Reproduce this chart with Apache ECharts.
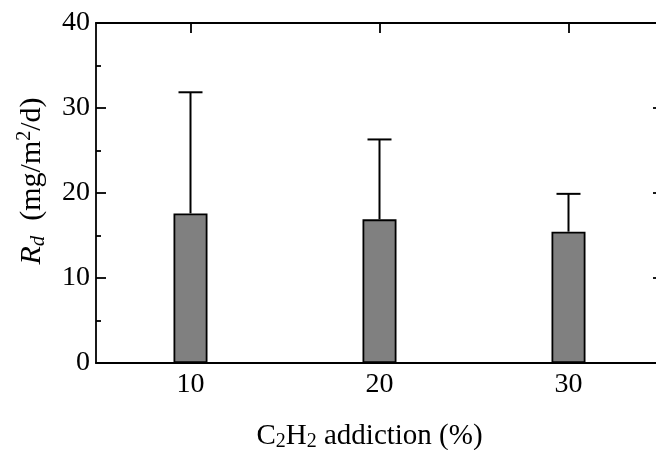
<!DOCTYPE html>
<html>
<head>
<meta charset="utf-8">
<script src="https://cdn.jsdelivr.net/npm/echarts@6/dist/echarts.min.js"></script>
<style>html,body{margin:0;padding:0;background:#fff;overflow:hidden}#c{width:680px;height:450px}</style>
</head>
<body>
<div id="c"></div>
<script>
var categories = ['10', '20', '30'];
var means = [17.6, 16.9, 15.45];
var upperEnds = [31.85, 26.3, 19.9];
var yTicks = [0, 10, 20, 30, 40];

var FONT = 'Liberation Serif';
var chart = echarts.init(document.getElementById('c'), null, {renderer: 'canvas'});
var errData = categories.map(function (c, i) { return [i, means[i], upperEnds[i]]; });

chart.setOption({
  animation: false,
  backgroundColor: '#fff',
  grid: {left: 96, top: 23, width: 567, height: 340, containLabel: false, outerBoundsMode: 'none'},
  xAxis: [{
    type: 'category', data: categories, position: 'bottom',
    axisLine: {lineStyle: {color: '#000', width: 1.8}},
    axisTick: {inside: true, length: 10, alignWithLabel: true, interval: 0, lineStyle: {color: '#000', width: 1.8}},
    axisLabel: {color: '#000', fontFamily: FONT, fontSize: 28, margin: 8, interval: 0},
    name: '{n|C}{s|2}{n|H}{s|2}{n| addiction (%)}',
    nameLocation: 'middle', nameGap: 57,
    nameTextStyle: {
      padding: [0, 20, 0, 0],
      rich: {
        n: {fontFamily: FONT, fontSize: 29, color: '#000', lineHeight: 32, verticalAlign: 'middle'},
        s: {fontFamily: FONT, fontSize: 20, color: '#000', lineHeight: 32, verticalAlign: 'bottom'}
      }
    }
  }, {
    type: 'category', data: categories, position: 'top',
    axisLine: {show: true, onZero: false, lineStyle: {color: '#000', width: 1.8}},
    axisTick: {show: true, inside: true, length: 10, alignWithLabel: true, interval: 0, lineStyle: {color: '#000', width: 1.8}},
    axisLabel: {show: true, interval: 0, color: 'rgba(0,0,0,0)', fontSize: 10}
  }],
  yAxis: [{
    type: 'value', min: 0, max: 40, interval: 10, position: 'left',
    axisLine: {show: true, lineStyle: {color: '#000', width: 1.8}},
    axisTick: {show: true, inside: true, length: 10, lineStyle: {color: '#000', width: 1.8}},
    minorTick: {show: true, splitNumber: 2, length: 5, lineStyle: {color: '#000', width: 1.8}},
    splitLine: {show: false},
    axisLabel: {color: '#000', fontFamily: FONT, fontSize: 28, margin: 6,
      formatter: function (v) { return yTicks.indexOf(v) >= 0 ? String(v) : ''; }},
    name: '{i|R}{s|d}{n|  (mg/m}{p|2}{n|/d)}',
    nameLocation: 'middle', nameGap: 47, nameRotate: 90,
    nameTextStyle: {
      padding: [0, 0, 0, 24],
      rich: {
        i: {fontFamily: FONT, fontSize: 30, fontStyle: 'italic', color: '#000', lineHeight: 34, verticalAlign: 'middle'},
        s: {fontFamily: FONT, fontSize: 21, fontStyle: 'italic', color: '#000', lineHeight: 34, verticalAlign: 'bottom'},
        n: {fontFamily: FONT, fontSize: 30, color: '#000', lineHeight: 34, verticalAlign: 'middle'},
        p: {fontFamily: FONT, fontSize: 20, color: '#000', lineHeight: 34, verticalAlign: 'top'}
      }
    }
  }, {
    type: 'value', min: 0, max: 40, interval: 10, position: 'right',
    axisLine: {show: true, lineStyle: {color: '#000', width: 1.8}},
    axisTick: {show: true, inside: true, length: 10, lineStyle: {color: '#000', width: 1.8}},
    minorTick: {show: true, splitNumber: 2, length: 5, lineStyle: {color: '#000', width: 1.8}},
    splitLine: {show: false},
    axisLabel: {show: false}
  }],
  series: [{
    type: 'custom',
    xAxisIndex: 0, yAxisIndex: 0,
    data: errData,
    z: 1,
    renderItem: function (params, api) {
      var x = api.value(0);
      var p0 = api.coord([x, api.value(1)]);
      var p1 = api.coord([x, api.value(2)]);
      var hw = 12;
      var st = {stroke: '#000', lineWidth: 2};
      return {type: 'group', children: [
        {type: 'line', shape: {x1: p0[0], y1: p0[1], x2: p1[0], y2: p1[1]}, style: st},
        {type: 'line', shape: {x1: p1[0] - hw, y1: p1[1], x2: p1[0] + hw, y2: p1[1]}, style: st}
      ]};
    }
  }, {
    type: 'bar',
    xAxisIndex: 0, yAxisIndex: 0,
    data: means,
    barWidth: 34,
    z: 3,
    itemStyle: {color: '#808080', borderColor: '#000', borderWidth: 1.8}
  }]
});
</script>
</body>
</html>
